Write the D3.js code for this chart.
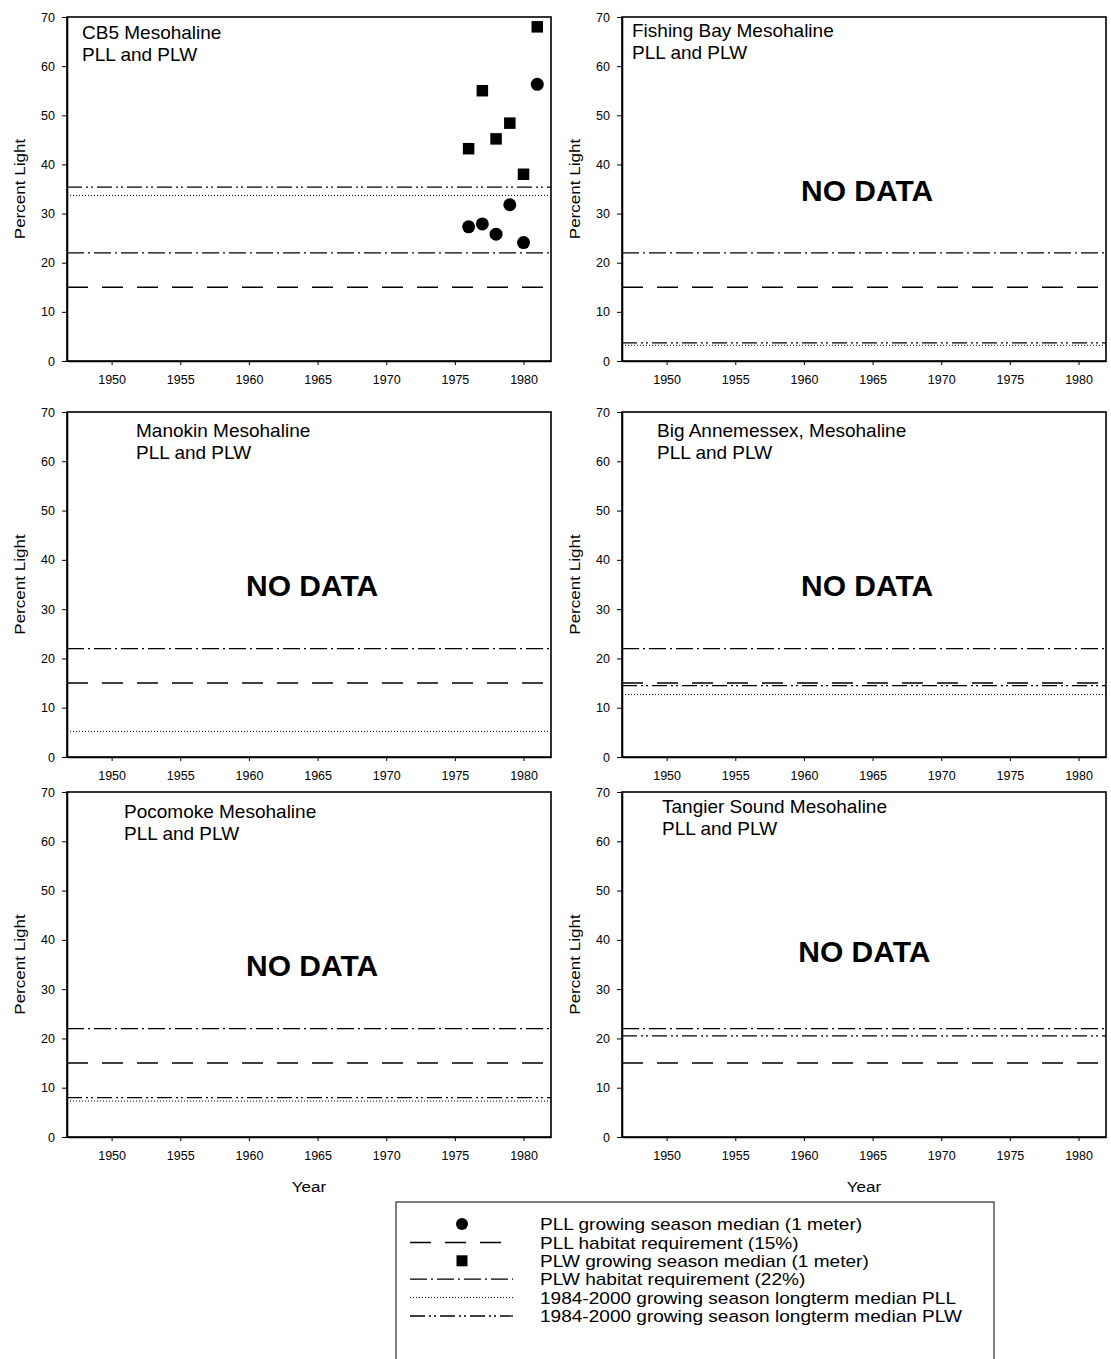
<!DOCTYPE html>
<html>
<head>
<meta charset="utf-8">
<script src="https://cdn.jsdelivr.net/npm/d3@7"></script>
<style>
  html, body { margin: 0; padding: 0; background: #fff; }
  svg text { font-family: Arial, "Liberation Sans", sans-serif; fill: #000; }
</style>
</head>
<body>
<svg id="chart" width="1111" height="1359"></svg>
<script>
// ---- data ----
const panelNames = ["CB5 Mesohaline", "Fishing Bay Mesohaline", "Manokin Mesohaline",
  "Big Annemessex, Mesohaline", "Pocomoke Mesohaline", "Tangier Sound Mesohaline"];
const subtitle = "PLL and PLW";
const hasData = [true, false, false, false, false, false];
const cb5Years = [1976, 1977, 1978, 1979, 1980, 1981];
const cb5PLL = [27.3, 27.9, 25.8, 31.8, 24.1, 56.3];
const cb5PLW = [43.2, 55.0, 45.2, 48.4, 38.0, 68.0];
const pllRequirement = 15;
const plwRequirement = 22;
const pllLongtermMedian = [33.7, 3.2, 5.2, 12.7, 7.3, null];
const plwLongtermMedian = [35.4, 3.7, null, 14.5, 8.0, 20.5];
const xTicks = [1950, 1955, 1960, 1965, 1970, 1975, 1980];
const yTicks = [0, 10, 20, 30, 40, 50, 60, 70];
const legendLabels = [
  "PLL growing season median (1 meter)",
  "PLL habitat requirement (15%)",
  "PLW growing season median (1 meter)",
  "PLW habitat requirement (22%)",
  "1984-2000 growing season longterm median PLL",
  "1984-2000 growing season longterm median PLW"
];

// ---- layout ----
const cols = [[67, 551], [622, 1106]];
const rows = [[17, 361], [412, 757], [792, 1137]];
const titleOffsets = [[15, 22], [10, 20], [69, 25], [35, 25], [57, 26], [40, 21]];
const noDataPos = [null, [1964.6, 34.8], [1964.6, 34.8], [1964.6, 34.8], [1964.6, 34.8], [1964.4, 37.6]];
const FONT = "Arial, 'Liberation Sans', sans-serif";

const styles = {
  pllReq: { dash: "21,14", w: 1.5 },
  plwReq: { dash: "17,4,2,4", w: 1.3 },
  pllMed: { dash: "1,2", w: 1 },
  plwMed: { dash: "15,4,2,3,2,4", w: 1.3 }
};

const svg = d3.select("#chart");

// stretch a text horizontally by factor k
function stretch(sel, k) {
  sel.each(function () {
    const L = this.getComputedTextLength();
    d3.select(this).attr("textLength", L * k).attr("lengthAdjust", "spacingAndGlyphs");
  });
}

panelNames.forEach((name, i) => {
  const c = cols[i % 2], r = rows[Math.floor(i / 2)];
  const x = d3.scaleLinear().domain([1946.75, 1982]).range(c);
  const y = d3.scaleLinear().domain([0, 70]).range([r[1], r[0]]);
  const g = svg.append("g");

  // frame
  g.append("rect").attr("x", c[0]).attr("y", r[0]).attr("width", c[1] - c[0]).attr("height", r[1] - r[0])
    .attr("fill", "none").attr("stroke", "#000").attr("stroke-width", 1.6);

  const yAxis = g.append("g").attr("transform", `translate(${c[0]},0)`)
    .call(d3.axisLeft(y).tickValues(yTicks).tickSize(5).tickSizeOuter(0).tickPadding(7));
  const xAxis = g.append("g").attr("transform", `translate(0,${r[1]})`)
    .call(d3.axisBottom(x).tickValues(xTicks).tickFormat(d3.format("d")).tickSize(4).tickSizeOuter(0).tickPadding(10));
  [yAxis, xAxis].forEach(a => {
    a.select(".domain").attr("stroke", "#000").attr("stroke-width", 1.6);
    a.selectAll(".tick line").attr("stroke", "#000");
    a.selectAll("text").attr("font-size", 12.5).attr("font-family", FONT);
  });

  // y label
  const yl = g.append("text").attr("transform", `translate(${c[0] - 42},${(r[0] + r[1]) / 2}) rotate(-90)`)
    .attr("text-anchor", "middle").attr("font-size", 15.5).text("Percent Light");
  stretch(yl, 1.1);
  if (Math.floor(i / 2) === 2) {
    const xl = g.append("text").attr("x", (c[0] + c[1]) / 2).attr("y", r[1] + 55).attr("text-anchor", "middle")
      .attr("font-size", 15.5).text("Year");
    stretch(xl, 1.1);
  }

  // horizontal reference lines
  const hline = (v, s) => {
    if (v == null) return;
    g.append("line").attr("x1", c[0]).attr("x2", c[1]).attr("y1", y(v)).attr("y2", y(v))
      .attr("stroke", "#000").attr("stroke-width", s.w).attr("stroke-dasharray", s.dash);
  };
  hline(pllRequirement, styles.pllReq);
  hline(plwRequirement, styles.plwReq);
  hline(pllLongtermMedian[i], styles.pllMed);
  hline(plwLongtermMedian[i], styles.plwMed);

  // title
  const t = g.append("text").attr("x", c[0] + titleOffsets[i][0]).attr("y", r[0] + titleOffsets[i][1])
    .attr("font-size", 19);
  t.append("tspan").attr("x", c[0] + titleOffsets[i][0]).text(name);
  t.append("tspan").attr("x", c[0] + titleOffsets[i][0]).attr("dy", 22).text(subtitle);

  if (hasData[i]) {
    g.selectAll("rect.plw").data(cb5Years).join("rect").attr("class", "plw")
      .attr("x", (d) => x(d) - 5.75).attr("y", (d, k) => y(cb5PLW[k]) - 5.75)
      .attr("width", 11.5).attr("height", 11.5).attr("fill", "#000");
    g.selectAll("circle.pll").data(cb5Years).join("circle").attr("class", "pll")
      .attr("cx", (d) => x(d)).attr("cy", (d, k) => y(cb5PLL[k])).attr("r", 6.5).attr("fill", "#000");
  } else {
    const p = noDataPos[i];
    g.append("text").attr("x", x(p[0])).attr("y", y(p[1])).attr("dy", "0.36em").attr("text-anchor", "middle")
      .attr("font-size", 30).attr("font-weight", "bold").text("NO DATA");
  }
});

// ---- legend ----
const lg = svg.append("g");
const lx0 = 396, ly0 = 1202, lx1 = 994;
lg.append("rect").attr("x", lx0).attr("y", ly0).attr("width", lx1 - lx0).attr("height", 180)
  .attr("fill", "#fff").attr("stroke", "#000").attr("stroke-width", 1);
const legendRow = d3.scaleLinear().domain([0, 5]).range([1224, 1316]);
const legendKinds = ["circle", "pllReq", "square", "plwReq", "pllMed", "plwMed"];
legendLabels.forEach((lab, k) => {
  const yy = legendRow(k);
  const kind = legendKinds[k];
  if (kind === "circle") {
    lg.append("circle").attr("cx", 462).attr("cy", yy).attr("r", 6).attr("fill", "#000");
  } else if (kind === "square") {
    lg.append("rect").attr("x", 456.5).attr("y", yy - 5.5).attr("width", 11).attr("height", 11).attr("fill", "#000");
  } else {
    const s = styles[kind];
    lg.append("line").attr("x1", 410).attr("x2", 513).attr("y1", yy).attr("y2", yy)
      .attr("stroke", "#000").attr("stroke-width", s.w).attr("stroke-dasharray", s.dash);
  }
  const tx = lg.append("text").attr("x", 540).attr("y", yy).attr("dy", "0.36em").attr("font-size", 17).text(lab);
  stretch(tx, 1.12);
});
</script>
</body>
</html>
